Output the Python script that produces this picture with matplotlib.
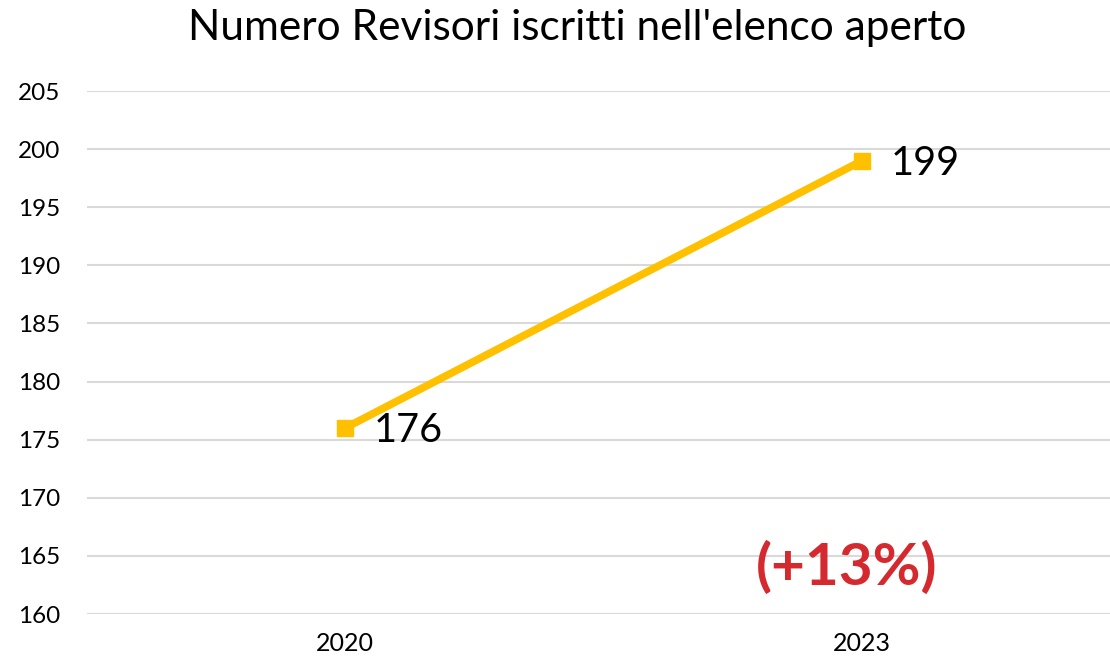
import matplotlib
matplotlib.use("Agg")
import matplotlib.pyplot as plt

categories = ["2020", "2023"]
values = [176, 199]
y_ticks = [160, 165, 170, 175, 180, 185, 190, 195, 200, 205]
title = "Numero Revisori iscritti nell'elenco aperto"
note = "(+13%)"

plt.rcParams['font.family'] = ['Lato', 'DejaVu Sans']

fig = plt.figure(figsize=(11.10, 6.63), dpi=100)
ax = fig.add_axes([86.5/1110, 49/663, 1034/1110, 523/663])

x = list(range(len(categories)))
ax.plot(x, values, color="#FFC000", lw=5.5, marker="s", markersize=12,
        solid_capstyle="butt", zorder=3)
for xi, v in zip(x, values):
    ax.annotate(str(v), (xi, v), xytext=(21, -2), textcoords="offset points",
                ha="left", va="center", fontsize=28.5, color="black")

ax.set_xlim(-0.5, len(categories) - 0.5)
ax.set_ylim(min(y_ticks), max(y_ticks))
ax.set_xticks(x)
ax.set_xticklabels(categories, fontsize=18)
ax.set_yticks(y_ticks)
ax.set_yticklabels([str(t) for t in y_ticks], fontsize=17.5)
ax.tick_params(axis="both", length=0)
ax.tick_params(axis="y", pad=19)
ax.tick_params(axis="x", pad=13)
ax.yaxis.grid(True, color="#D9D9D9", lw=1.5)
ax.set_axisbelow(True)
for s in ax.spines.values():
    s.set_visible(False)

ax.text(0.97, 164.0, note, ha="center", va="center", fontsize=42,
        fontweight="bold", color="#D42A2F")

fig.text(577/1110, 1 - 28/663, title, ha="center", va="center", fontsize=30.5)

fig.savefig("out.png", dpi=100)
